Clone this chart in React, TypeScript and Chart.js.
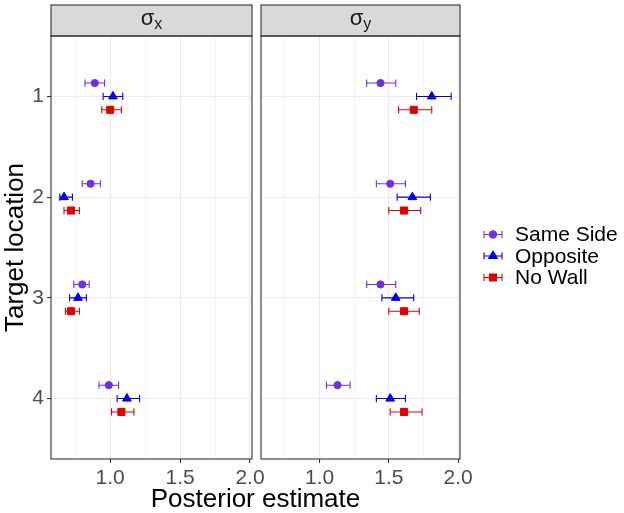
import { useEffect, useRef } from 'react';
import { Chart, registerables } from 'chart.js';

Chart.register(...registerables);

const FONT = '"Liberation Sans", Arial, Helvetica, sans-serif';
Chart.defaults.font.family = FONT;

// y axis: target locations, top to bottom
const locations = ['1', '2', '3', '4'];
const groups = ['Same Side', 'Opposite', 'No Wall'];
const groupColors = ['#7030E0', '#0000F0', '#E00000'];
const groupShapes = ['circle', 'triangle', 'rect'];
const groupRadius = [3.6, 5, 5];
const dodge = [-0.133, 0, 0.133];

const xTicks = [0.75, 1, 1.25, 1.5, 1.75, 2];
const xMajor = [1, 1.5, 2];
const X_MIN = 0.577;
const X_MAX = 2.014;

// sigma x panel
const sameSideX = [0.89, 0.86, 0.8, 0.99];
const sameSideXLo = [0.82, 0.8, 0.74, 0.92];
const sameSideXHi = [0.96, 0.93, 0.85, 1.06];
const oppositeX = [1.02, 0.67, 0.77, 1.12];
const oppositeXLo = [0.95, 0.64, 0.71, 1.05];
const oppositeXHi = [1.09, 0.73, 0.83, 1.21];
const noWallX = [1.0, 0.72, 0.72, 1.08];
const noWallXLo = [0.94, 0.67, 0.68, 1.01];
const noWallXHi = [1.08, 0.78, 0.78, 1.17];

// sigma y panel
const sameSideY = [1.44, 1.51, 1.44, 1.13];
const sameSideYLo = [1.34, 1.41, 1.34, 1.05];
const sameSideYHi = [1.55, 1.62, 1.55, 1.22];
const oppositeY = [1.81, 1.67, 1.55, 1.51];
const oppositeYLo = [1.7, 1.56, 1.45, 1.41];
const oppositeYHi = [1.95, 1.8, 1.68, 1.62];
const noWallY = [1.68, 1.61, 1.61, 1.61];
const noWallYLo = [1.57, 1.5, 1.5, 1.51];
const noWallYHi = [1.81, 1.73, 1.72, 1.74];

const facetSubs = ['x', 'y'];
const facetData = [
  { est: [sameSideX, oppositeX, noWallX], lo: [sameSideXLo, oppositeXLo, noWallXLo], hi: [sameSideXHi, oppositeXHi, noWallXHi] },
  { est: [sameSideY, oppositeY, noWallY], lo: [sameSideYLo, oppositeYLo, noWallYLo], hi: [sameSideYHi, oppositeYHi, noWallYHi] },
];

function drawShape(ctx: CanvasRenderingContext2D, shape: string, x: number, y: number, r: number) {
  ctx.beginPath();
  if (shape === 'circle') {
    ctx.arc(x, y, r, 0, Math.PI * 2);
  } else if (shape === 'triangle') {
    ctx.moveTo(x, y - r);
    ctx.lineTo(x + r * 0.866, y + r / 2);
    ctx.lineTo(x - r * 0.866, y + r / 2);
    ctx.closePath();
  } else {
    const s = r * Math.SQRT1_2;
    ctx.rect(x - s, y - s, 2 * s, 2 * s);
  }
  ctx.fill();
  ctx.stroke();
}

// strip on top + panel border
const facetPlugin = (sub: string) => ({
  id: 'facet',
  afterDraw(chart: any) {
    const { ctx, chartArea: a } = chart;
    ctx.save();
    ctx.fillStyle = '#D9D9D9';
    ctx.strokeStyle = '#333333';
    ctx.lineWidth = 1.1;
    ctx.fillRect(a.left, 5, a.right - a.left, a.top - 5);
    ctx.strokeRect(a.left, 5, a.right - a.left, a.top - 5);
    ctx.strokeRect(a.left, a.top, a.right - a.left, a.bottom - a.top);
    ctx.fillStyle = '#1A1A1A';
    ctx.textBaseline = 'alphabetic';
    ctx.font = `22px ${FONT}`;
    const w1 = ctx.measureText('σ').width;
    ctx.font = `16px ${FONT}`;
    const w2 = ctx.measureText(sub).width;
    const x0 = (a.left + a.right) / 2 - (w1 + w2) / 2;
    ctx.font = `22px ${FONT}`;
    ctx.fillText('σ', x0, 25);
    ctx.font = `16px ${FONT}`;
    ctx.fillText(sub, x0 + w1, 29);
    ctx.restore();
  },
});

const legendPlugin = {
  id: 'sideLegend',
  afterDraw(chart: any) {
    const { ctx } = chart;
    ctx.save();
    groups.forEach((g, i) => {
      const y = 234.5 + i * 21.5;
      const cx = 238;
      ctx.strokeStyle = groupColors[i];
      ctx.fillStyle = groupColors[i];
      ctx.lineWidth = 1.1;
      ctx.beginPath();
      ctx.moveTo(cx - 9, y);
      ctx.lineTo(cx + 9, y);
      ctx.moveTo(cx - 9, y - 3.5);
      ctx.lineTo(cx - 9, y + 3.5);
      ctx.moveTo(cx + 9, y - 3.5);
      ctx.lineTo(cx + 9, y + 3.5);
      ctx.stroke();
      drawShape(ctx, groupShapes[i], cx, y, groupRadius[i]);
      ctx.fillStyle = '#000';
      ctx.font = `21px ${FONT}`;
      ctx.textBaseline = 'middle';
      ctx.textAlign = 'left';
      ctx.fillText(g, 260, y + 1);
    });
    ctx.restore();
  },
};

function buildConfig(index: number): any {
  const d = facetData[index];
  const first = index === 0;
  const datasets: any[] = [];
  groups.forEach((g, gi) => {
    const bars: any[] = [];
    locations.forEach((_, li) => {
      const y = li + 1 + dodge[gi];
      bars.push({ x: d.lo[gi][li], y }, { x: d.hi[gi][li], y }, { x: d.hi[gi][li], y: null });
    });
    datasets.push({
      label: g + ' interval',
      data: bars,
      showLine: true,
      spanGaps: false,
      borderColor: groupColors[gi],
      borderWidth: 1.1,
      pointStyle: 'line',
      pointRotation: 90,
      pointRadius: 3.6,
      pointBorderWidth: 1.1,
      pointBorderColor: groupColors[gi],
      order: 1,
    });
    datasets.push({
      label: g,
      data: locations.map((_, li) => ({ x: d.est[gi][li], y: li + 1 + dodge[gi] })),
      pointStyle: groupShapes[gi],
      pointRadius: groupRadius[gi],
      backgroundColor: groupColors[gi],
      borderColor: groupColors[gi],
      pointBorderWidth: 1,
      order: 0,
    });
  });

  return {
    type: 'scatter',
    data: { datasets },
    options: {
      responsive: true,
      maintainAspectRatio: false,
      animation: false,
      events: [],
      layout: { padding: first ? { top: 36, right: 18, left: 0, bottom: 0 } : { top: 36, right: 164, left: 4, bottom: 0 } },
      plugins: { legend: { display: false }, tooltip: { enabled: false } },
      scales: {
        x: {
          type: 'linear',
          min: X_MIN,
          max: X_MAX,
          afterBuildTicks: (s: any) => { s.ticks = xTicks.map(v => ({ value: v })); },
          afterFit: (s: any) => { s.height = 54; },
          border: { display: false },
          grid: {
            color: '#EBEBEB',
            lineWidth: (c: any) => (xMajor.includes(c.tick?.value) ? 1.1 : 0.55),
            tickLength: 4,
            tickColor: (c: any) => (xMajor.includes(c.tick?.value) ? '#333333' : 'rgba(0,0,0,0)'),
            tickWidth: 1.1,
          },
          ticks: {
            font: { size: 21 },
            color: '#4D4D4D',
            padding: 3,
            maxRotation: 0,
            autoSkip: false,
            callback: (v: any) => (xMajor.includes(v) ? Number(v).toFixed(1) : ''),
          },
        },
        y: {
          type: 'linear',
          min: 0.4,
          max: 4.6,
          reverse: true,
          afterBuildTicks: (s: any) => { s.ticks = locations.map((_, i) => ({ value: i + 1 })); },
          afterFit: (s: any) => { s.width = first ? 51 : 0; },
          border: { display: false },
          title: {
            display: first,
            text: 'Target location',
            color: '#000',
            font: { size: 26, lineHeight: 1.2 },
            padding: 0,
          },
          grid: {
            color: '#EBEBEB',
            lineWidth: 1.1,
            drawTicks: first,
            tickLength: 4,
            tickColor: '#333333',
            tickWidth: 1.1,
          },
          ticks: {
            display: first,
            font: { size: 21 },
            color: '#4D4D4D',
            padding: 3,
            callback: (v: any) => locations[Math.round(v) - 1] ?? '',
          },
        },
      },
    },
    plugins: first ? [facetPlugin(facetSubs[index])] : [facetPlugin(facetSubs[index]), legendPlugin],
  };
}

function FacetChart({ index }: { index: number }) {
  const ref = useRef<HTMLCanvasElement>(null);
  useEffect(() => {
    if (!ref.current) return;
    const chart = new Chart(ref.current, buildConfig(index));
    return () => chart.destroy();
  }, [index]);
  return <canvas ref={ref} />;
}

export default function App() {
  return (
    <div style={{ position: 'absolute', left: 0, top: 0, width: 624, height: 513, background: '#fff', fontFamily: FONT }}>
      <div style={{ position: 'absolute', left: 0, top: 0, width: 270, height: 513 }}>
        <FacetChart index={0} />
      </div>
      <div style={{ position: 'absolute', left: 255, top: 0, width: 369, height: 513 }}>
        <FacetChart index={1} />
      </div>
      <div style={{ position: 'absolute', left: 0, top: 485, width: 511, textAlign: 'center', fontSize: 26, lineHeight: '26px', color: '#000' }}>
        Posterior estimate
      </div>
    </div>
  );
}
